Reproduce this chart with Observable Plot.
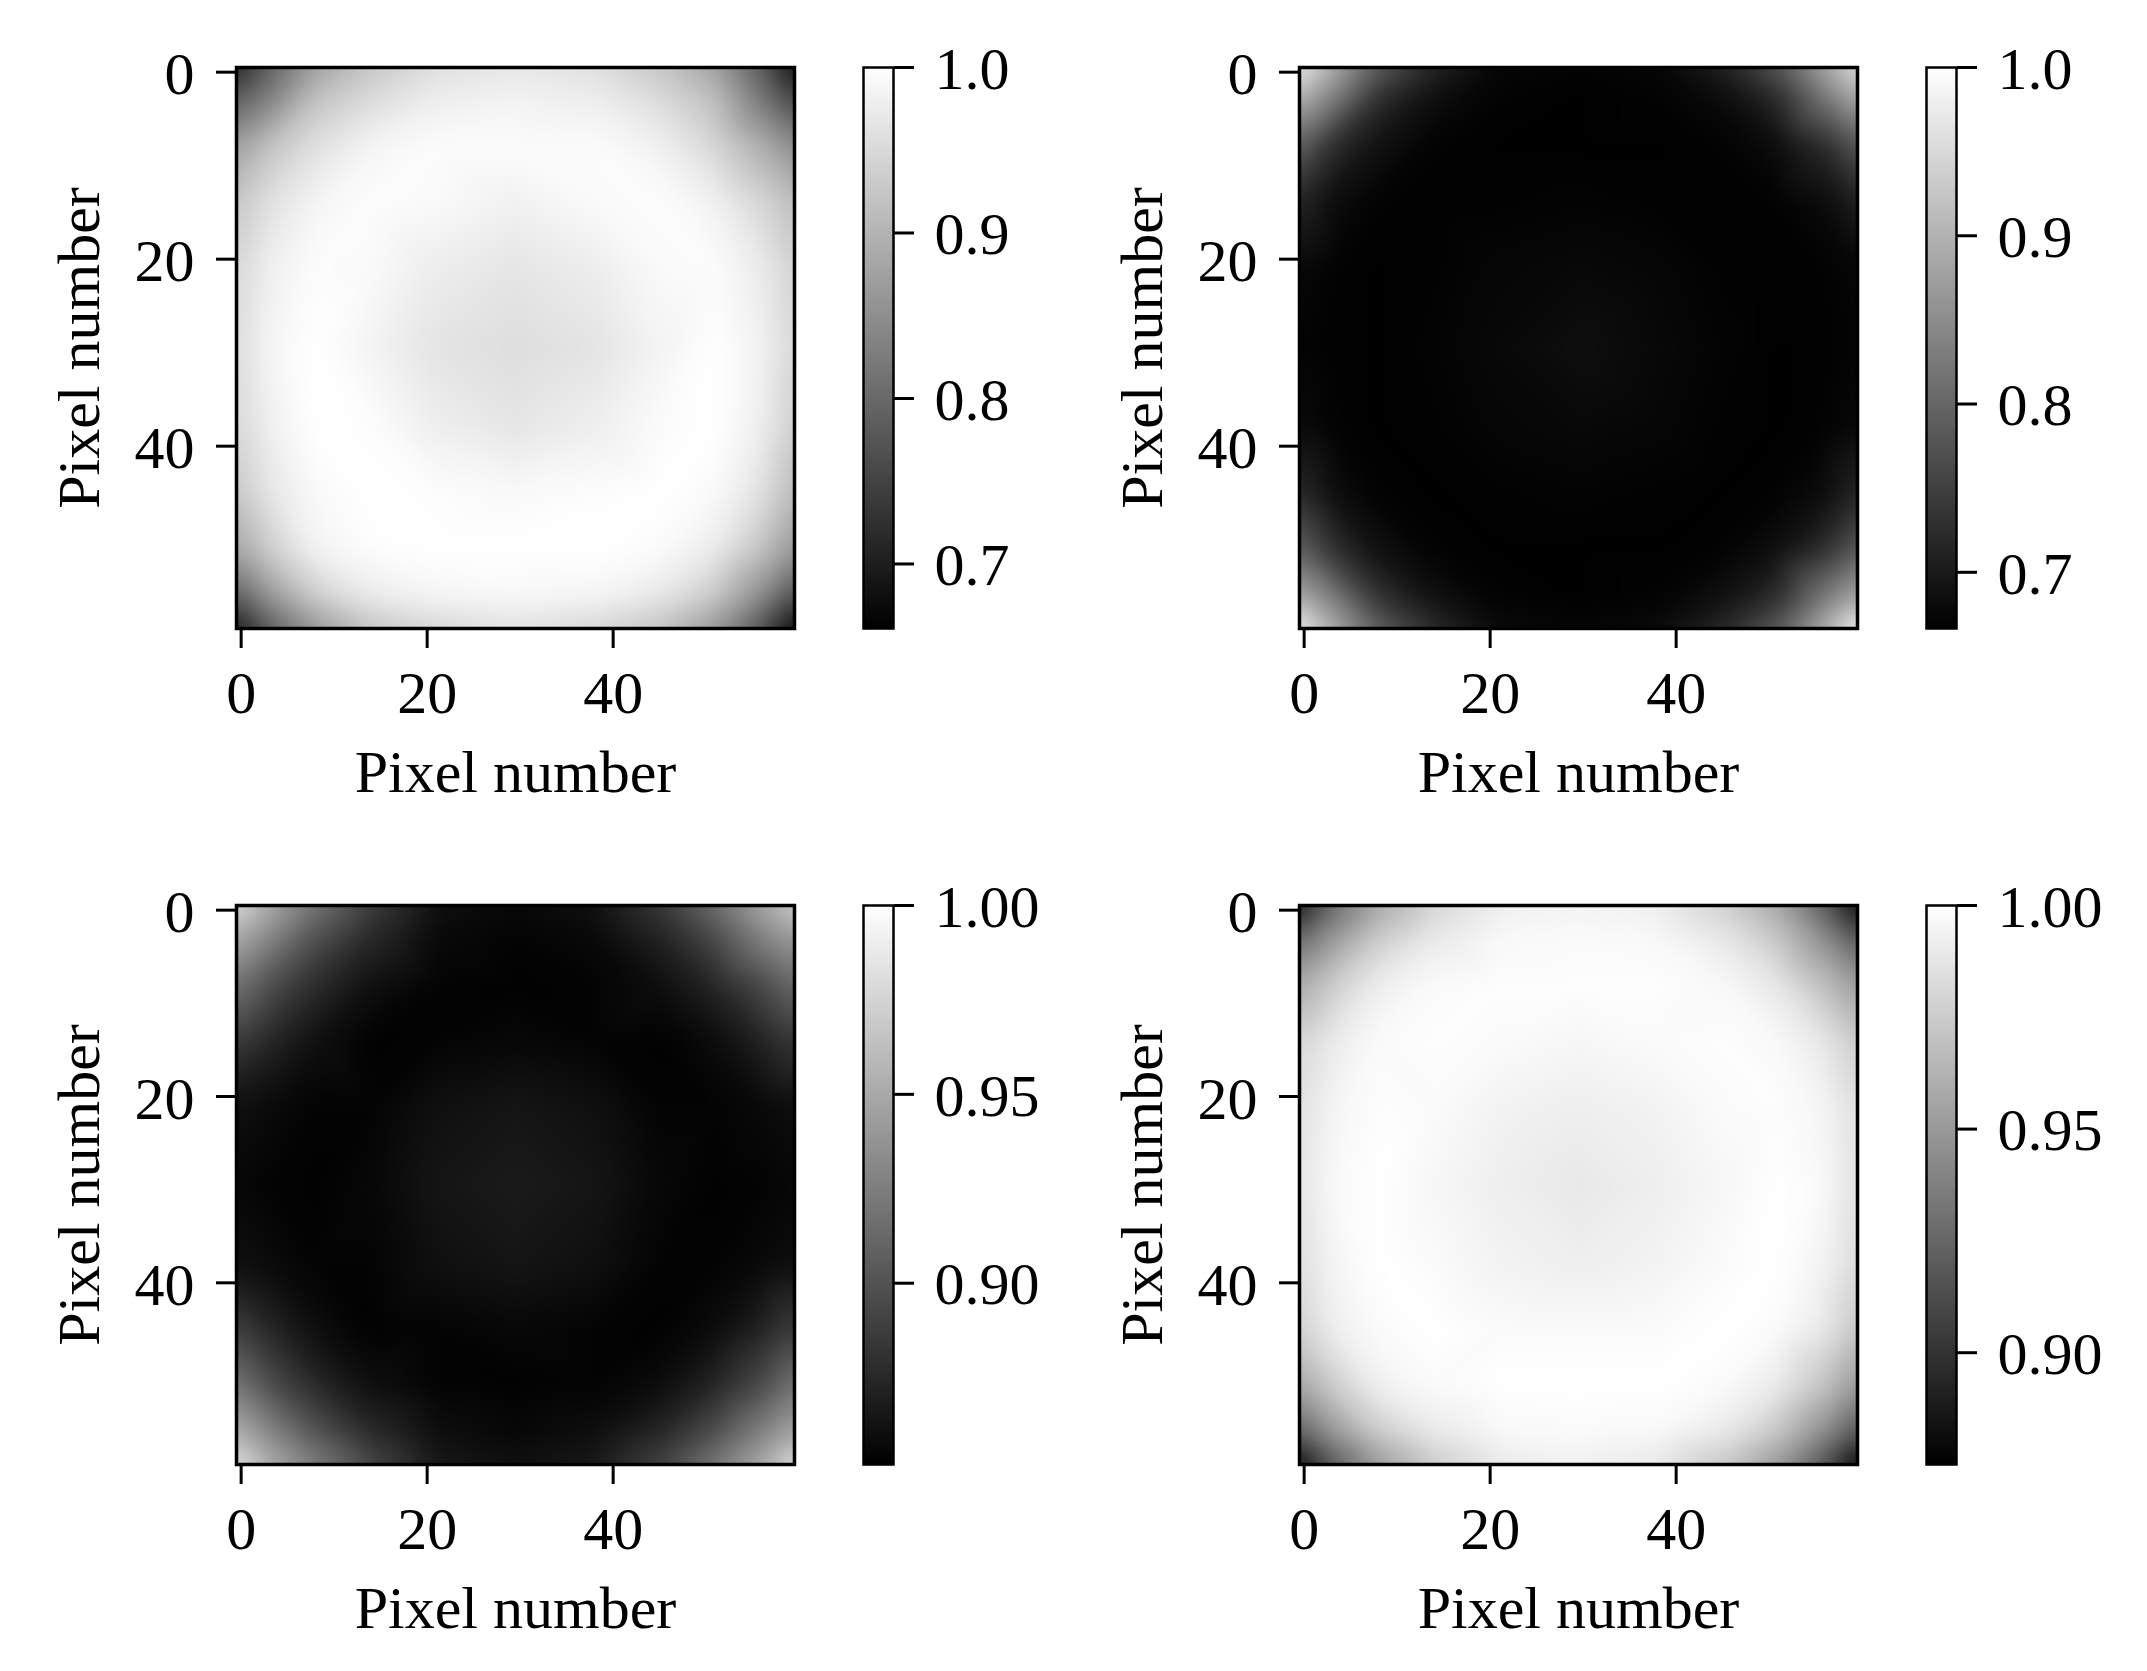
<!DOCTYPE html>
<html><head><meta charset="utf-8">
<script src="https://cdn.jsdelivr.net/npm/d3@7"></script>
<script src="https://cdn.jsdelivr.net/npm/@observablehq/plot@0.6"></script>
<style>
html,body{margin:0;padding:0;background:#fff}
#page{position:relative;width:2147px;height:1671px;overflow:hidden}
#page svg{position:absolute;overflow:visible}
</style></head><body><div id="page"></div>
<script>
const samplePositions = [-0.5, 3, 8, 14, 21, 29.5, 38, 45, 51, 56, 59.5];
const pixelTicks = [0, 20, 40];
const axisTitle = "Pixel number";

const valuesTopLeft = [
[.705,.787,.875,.925,.958,.968,.958,.925,.875,.781,.680],
[.787,.834,.920,.954,.978,.984,.978,.954,.915,.821,.754],
[.874,.920,.960,.987,.996,.996,.996,.982,.947,.894,.847],
[.925,.960,.987,.997,.993,.982,.993,.997,.982,.947,.914],
[.947,.980,.996,.993,.976,.966,.976,.993,.996,.974,.940],
[.954,.987,1.00,.985,.964,.956,.964,.985,1.00,.983,.947],
[.947,.980,1.00,.997,.978,.967,.978,.995,1.00,.978,.934],
[.927,.967,.993,1.00,.997,.993,.997,1.00,.993,.960,.907],
[.880,.934,.985,.997,1.00,1.00,1.00,.995,.974,.920,.860],
[.787,.860,.934,.974,.987,.991,.987,.970,.927,.847,.767],
[.690,.781,.860,.920,.947,.960,.947,.920,.860,.767,.665]];
const valuesTopRight = [
[.975,.896,.785,.715,.674,.670,.674,.710,.778,.883,.960],
[.896,.830,.725,.683,.670,.667,.670,.680,.720,.817,.883],
[.791,.725,.687,.670,.667,.667,.667,.670,.683,.720,.778],
[.715,.683,.670,.668,.669,.671,.669,.668,.670,.680,.708],
[.677,.670,.667,.669,.674,.677,.674,.669,.667,.670,.675],
[.672,.668,.667,.671,.677,.685,.677,.671,.667,.668,.672],
[.680,.671,.667,.669,.674,.677,.674,.669,.667,.670,.677],
[.720,.685,.670,.667,.669,.671,.669,.667,.670,.683,.715],
[.791,.730,.687,.670,.667,.667,.667,.670,.687,.725,.785],
[.889,.830,.730,.687,.670,.667,.670,.687,.725,.824,.883],
[.985,.896,.791,.725,.680,.674,.680,.720,.785,.896,.992]];
const valuesBottomLeft = [
[.980,.951,.919,.887,.861,.857,.861,.884,.916,.948,.972],
[.951,.930,.898,.875,.857,.854,.857,.872,.895,.927,.942],
[.919,.898,.878,.861,.854,.853,.854,.860,.875,.895,.913],
[.887,.875,.861,.853,.854,.856,.854,.853,.859,.872,.884],
[.861,.858,.854,.854,.861,.864,.861,.854,.854,.857,.860],
[.856,.854,.853,.856,.864,.867,.864,.856,.853,.854,.856],
[.861,.858,.854,.854,.861,.864,.861,.854,.854,.857,.860],
[.890,.875,.860,.853,.854,.856,.854,.853,.859,.872,.887],
[.922,.898,.876,.860,.854,.853,.854,.859,.874,.895,.919],
[.954,.930,.901,.876,.860,.856,.860,.874,.898,.927,.948],
[.985,.954,.925,.893,.866,.861,.866,.890,.922,.951,.982]];
const valuesBottomRight = [
[.885,.926,.958,.980,.992,.994,.992,.978,.956,.919,.878],
[.926,.949,.975,.990,.997,.998,.997,.989,.972,.944,.917],
[.958,.975,.992,.998,.999,.999,.999,.997,.988,.968,.951],
[.980,.990,.998,.999,.998,.996,.998,.999,.997,.988,.975],
[.985,.995,.999,.998,.994,.992,.994,.998,.999,.995,.984],
[.987,.997,1.00,.996,.992,.989,.992,.996,1.00,.997,.985],
[.984,.995,1.00,.998,.994,.992,.994,.998,1.00,.994,.982],
[.977,.992,.998,1.00,.998,.998,.998,1.00,.998,.989,.972],
[.956,.975,.993,.998,1.00,1.00,1.00,.998,.990,.971,.949],
[.922,.949,.975,.990,.997,.998,.997,.990,.972,.944,.917],
[.880,.917,.951,.975,.989,.993,.989,.973,.949,.914,.875]];

const colorMins = [0.661, 0.6666, 0.852, 0.875];
const colorbarTicks = [[0.7,0.8,0.9,1.0],[0.7,0.8,0.9,1.0],[0.90,0.95,1.00],[0.90,0.95,1.00]];
const colorbarFormats = [".1f",".1f",".2f",".2f"];

const panels = [
  {values: valuesTopLeft,     left: 236,  top: 67,  h: 561, cb: 0},
  {values: valuesTopRight,    left: 1299, top: 67,  h: 561, cb: 1},
  {values: valuesBottomLeft,  left: 236,  top: 905, h: 559, cb: 2},
  {values: valuesBottomRight, left: 1299, top: 905, h: 559, cb: 3}
];
const FONT = "'Liberation Serif','Times New Roman',serif";
const page = document.getElementById("page");
const frameW = 558;

function place(svg, x, y){ svg.style.left = x + "px"; svg.style.top = y + "px"; page.appendChild(svg); }

panels.forEach(p => {
  const samples = [];
  p.values.forEach((row, j) => row.forEach((v, i) => samples.push({x: samplePositions[i], y: samplePositions[j], v})));
  const mL = 236, mT = 10, mR = 20, mB = 200;
  const chart = Plot.plot({
    width: mL + frameW + mR, height: mT + p.h + mB,
    marginLeft: mL, marginTop: mT, marginRight: mR, marginBottom: mB,
    style: {fontFamily: FONT, fontSize: "60px", color: "#000", background: "transparent"},
    x: {domain: [-0.5, 59.5]},
    y: {domain: [59.5, -0.5]},
    color: {type: "linear", domain: [colorMins[p.cb], 1], range: ["black", "white"], clamp: true},
    marks: [
      Plot.raster(samples, {x: "x", y: "y", fill: "v", x1: -0.5, x2: 59.5, y1: 59.5, y2: -0.5,
        interpolate: "barycentric", pixelSize: 1, blur: 9}),
      Plot.frame({stroke: "black", strokeWidth: 3.5}),
      Plot.axisX(pixelTicks, {anchor: "bottom", tickSize: 20, tickPadding: 22, strokeWidth: 3,
        tickFormat: d => String(d), label: axisTitle, labelAnchor: "center", labelArrow: "none", labelOffset: 163}),
      Plot.axisY(pixelTicks, {anchor: "left", tickSize: 20, strokeWidth: 3, fill: "none", label: null}),
      Plot.axisY(pixelTicks, {anchor: "left", tickSize: 0, tickPadding: 42, dy: 3,
        tickFormat: d => String(d), label: axisTitle, labelAnchor: "center", labelArrow: "none", labelOffset: 180})
    ]
  });
  place(chart, p.left - mL, p.top - mT);

  const min = colorMins[p.cb];
  const bar = Plot.plot({
    width: 30 + 10 + 200, height: mT + p.h + 20,
    marginLeft: 10, marginRight: 200, marginTop: mT, marginBottom: 20,
    style: {fontFamily: FONT, fontSize: "60px", color: "#000", background: "transparent"},
    x: {domain: [0, 1], axis: null},
    y: {domain: [min, 1]},
    color: {type: "linear", domain: [min, 1], range: ["black", "white"]},
    marks: [
      Plot.raster({fill: (x, y) => y, x1: 0, x2: 1, y1: min, y2: 1, pixelSize: 1}),
      Plot.frame({stroke: "black", strokeWidth: 2.5}),
      Plot.axisY(colorbarTicks[p.cb], {anchor: "right", tickSize: 20, strokeWidth: 3, fill: "none", label: null}),
      Plot.axisY(colorbarTicks[p.cb], {anchor: "right", tickSize: 0, tickPadding: 41, dy: 2,
        tickFormat: d3.format(colorbarFormats[p.cb]), label: null})
    ]
  });
  place(bar, p.left + 627 - 10, p.top - mT);
});
</script></body></html>
